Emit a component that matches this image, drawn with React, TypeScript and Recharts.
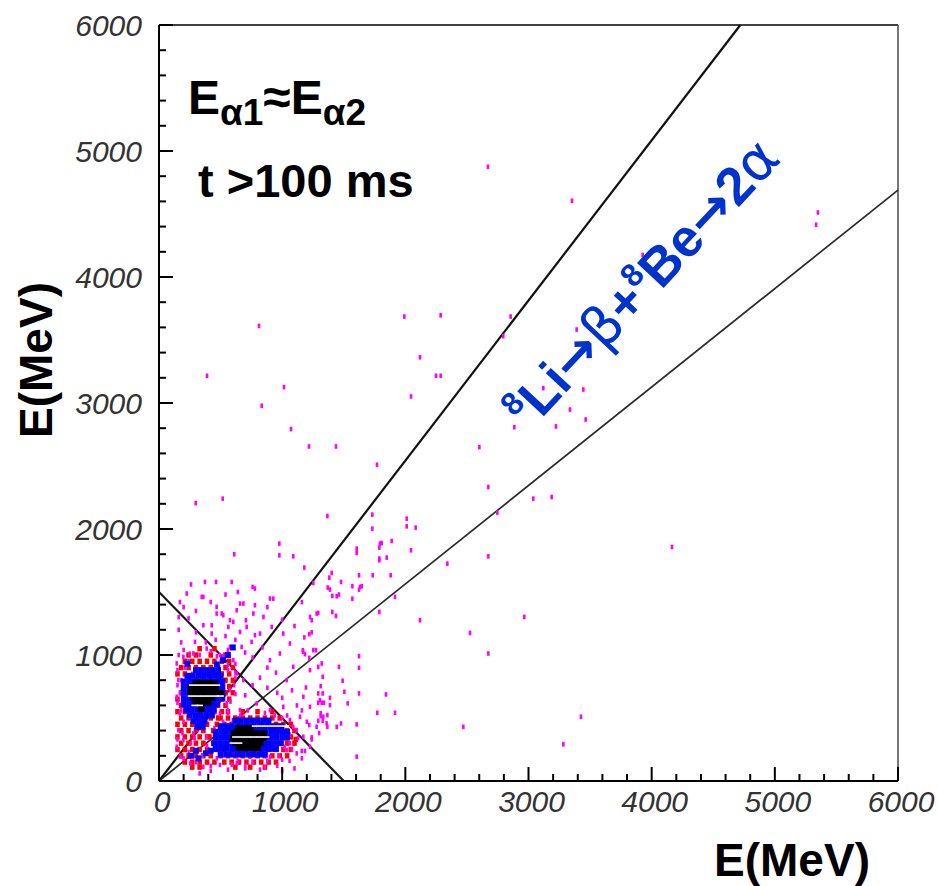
import { ScatterChart, Scatter, XAxis, YAxis, ReferenceLine } from 'recharts';

type Pt = [number, number];

const ticks = [
  0, 200, 400, 600, 800, 1000, 1200, 1400, 1600, 1800, 2000, 2200, 2400, 2600, 2800, 3000,
  3200, 3400, 3600, 3800, 4000, 4200, 4400, 4600, 4800, 5000, 5200, 5400, 5600, 5800, 6000,
];

// cuts drawn on the plot (MeV)
const cutUpper: Pt[] = [[0, 0], [4720, 6000]];
const cutLower: Pt[] = [[0, 0], [6000, 4690]];
const cutSum: Pt[] = [[0, 1500], [1500, 0]];

// sparse single counts (magenta)
const magenta: Pt[] = [
  [2671, 4875], [3353, 4605], [5350, 4512], [5335, 4415], [3927, 4175], [4311, 4341], [2287, 3696],
  [2855, 3686], [2795, 3530], [3391, 3583], [2119, 3363], [2249, 3216], [2287, 3216], [3445, 3107],
  [3120, 3118], [3337, 2948], [3464, 2869], [3223, 2814], [2885, 2808], [2601, 2650], [2674, 2333],
  [3039, 2241], [3188, 2254], [2747, 2130], [2674, 1783], [2341, 1725], [4165, 1857],
  [812, 3612], [1992, 3686], [390, 3216], [1015, 3126], [2046, 3052], [834, 2978], [1072, 2793],
  [1218, 2655], [1437, 2655], [1770, 2510], [298, 2206], [517, 2241], [1367, 2103], [1732, 2114],
  [1732, 2003], [2011, 2082], [2011, 2021], [2084, 2011], [611, 1799], [977, 1884], [977, 1791],
  [1090, 1783], [1180, 1694], [1605, 1844], [1605, 1810], [1794, 1884], [1808, 1889], [1889, 1905],
  [1789, 1852], [1789, 1765], [1849, 1773], [2046, 1831],
  [1402, 1651], [1383, 1614], [1253, 1572], [1624, 1633], [1735, 1633], [1881, 1633], [1478, 1580],
  [1570, 1546], [1632, 1540], [1646, 1546], [1624, 1519], [1370, 1535], [1388, 1519], [1407, 1469],
  [1443, 1466], [1461, 1480], [1570, 1447], [1916, 1461], [1789, 1752], [1407, 1342], [1437, 1310],
  [1293, 1334], [1789, 1342], [1240, 1276], [2119, 1276], [2966, 1302], [2525, 1175], [2674, 1012],
  [1220, 1165], [1167, 1038], [1185, 1007], [1220, 977], [1253, 1038], [1275, 1038], [1293, 906],
  [1461, 906], [1624, 991], [1624, 898], [1329, 827], [1491, 795], [1193, 742], [1313, 753],
  [1293, 695], [1329, 695], [1505, 708], [1624, 695], [1388, 660], [1843, 687], [1293, 621],
  [1321, 621], [1340, 621], [1388, 602], [1532, 616], [1313, 537], [1313, 515], [1367, 523],
  [1772, 541], [1916, 541], [1293, 478], [1329, 478], [1220, 444], [1367, 430], [1443, 430],
  [1478, 457], [1605, 449], [2471, 430], [3426, 510], [3283, 291], [1240, 346], [1159, 238],
  [1185, 238], [1605, 193],
  // halo around the two groups
  [225, 1488], [373, 1580], [463, 1580], [590, 1580], [347, 1461], [658, 1408], [685, 1408],
  [760, 1540], [779, 1527], [928, 1447], [468, 1329], [509, 1329], [631, 1355], [428, 1236],
  [563, 1223], [658, 1183], [779, 1157], [706, 1276], [766, 1329], [576, 1276], [360, 1461],
  [468, 1382], [522, 1316], [779, 1395], [901, 1448], [603, 1263], [712, 1223], [848, 1302],
  [915, 1223], [292, 1104], [360, 1236], [428, 1170], [820, 1170], [752, 1104], [671, 1064],
  [576, 1064], [1009, 1170], [1063, 1091], [982, 1012], [901, 959], [1226, 1302], [1280, 1329],
  [1171, 1025], [1090, 906], [1037, 801], [1226, 880], [1321, 933], [1172, 668], [1226, 589],
  [1307, 642], [1334, 510], [1280, 430], [1361, 457], [1172, 351], [1226, 272], [1118, 219],
  [1037, 246], [901, 193], [739, 193], [631, 140], [495, 127], [360, 113], [252, 140], [171, 193],
  [144, 668], [157, 801], [144, 933], [171, 537], [157, 404], [144, 272], [198, 325], [252, 510],
  [333, 457], [279, 378], [387, 351], [468, 272], [198, 985], [279, 1012], [387, 1051], [495, 999],
  [603, 959], [631, 854], [685, 801], [576, 721], [549, 616], [495, 537], [658, 563], [793, 616],
  [901, 563], [1009, 589], [1063, 484], [1145, 510], [1118, 404], [1063, 299],
  [540, 1150], [620, 1120], [700, 1020], [760, 980], [840, 1060], [880, 900], [950, 860], [820, 820],
  [760, 760], [880, 740], [960, 700], [1000, 660], [1080, 720], [1120, 600], [700, 680], [620, 860],
  [560, 920], [460, 1120], [380, 1100], [300, 1180], [240, 1290], [200, 1380], [300, 1350],
  [420, 1420], [540, 1480], [640, 1500], [260, 1560], [180, 1100], [160, 1000], [160, 1200],
  [1000, 1280], [1100, 1230], [880, 1380], [1160, 1420], [1240, 1180], [1180, 1140], [330, 60],
  [420, 80], [560, 90], [700, 100], [820, 90], [960, 120], [1060, 160], [1160, 180], [1240, 330],
  [1300, 380], [1200, 470], [1160, 560], [1000, 80], [1100, 100], [160, 1300], [170, 1420],
  // specks mixed into the red fringe
  [200, 1040], [330, 1000], [560, 1040], [240, 950], [470, 990], [620, 930], [150, 880], [620, 820],
  [150, 760], [610, 760], [170, 700], [620, 690], [150, 620], [580, 630], [180, 560], [560, 560],
  [200, 470], [330, 420], [150, 330], [260, 300], [390, 280], [200, 180], [300, 150], [420, 120],
  [560, 540], [720, 560], [860, 540], [1000, 500], [1090, 430], [1130, 340], [1080, 250], [1000, 170],
  [860, 110], [700, 120], [590, 130], [470, 180], [1040, 520], [940, 520], [660, 520], [450, 420],
  [210, 900], [270, 850], [180, 800], [230, 650], [560, 880], [520, 990], [420, 1030], [250, 1010],
  [190, 380], [240, 230], [350, 200], [290, 340], [520, 470], [600, 480], [1020, 270], [970, 200],
  [1060, 370], [880, 160], [760, 150], [640, 160],
];

// mid counts (red), rows staggered like the binned picture
const red: Pt[] = [
  [330, 1050], [450, 1050],
  [240, 1000], [300, 1000], [420, 1000], [540, 1000],
  [210, 950], [270, 950], [330, 950], [390, 950], [450, 950], [510, 950], [570, 950],
  [180, 900], [240, 900], [300, 900], [360, 900], [420, 900], [480, 900], [540, 900], [600, 900],
  [150, 850], [210, 850], [330, 850], [390, 850], [450, 850], [510, 850], [570, 850],
  [240, 800], [300, 800], [360, 800], [420, 800], [480, 800], [540, 800], [600, 800],
  [210, 750], [270, 750], [330, 750], [390, 750], [450, 750], [510, 750], [570, 750],
  [180, 700], [240, 700], [300, 700], [360, 700], [420, 700], [480, 700], [540, 700], [600, 700],
  [150, 650], [210, 650], [270, 650], [330, 650], [390, 650], [450, 650], [510, 650], [570, 650],
  [180, 600], [240, 600], [300, 600], [360, 600], [420, 600], [480, 600], [540, 600],
  [150, 550], [210, 550], [270, 550], [330, 550], [390, 550], [450, 550], [510, 550],
  [180, 500], [240, 500], [300, 500], [360, 500], [420, 500], [480, 500],
  [150, 450], [210, 450], [270, 450], [330, 450], [390, 450],
  [180, 400], [240, 400], [300, 400], [360, 400],
  [150, 350], [210, 350], [270, 350], [330, 350], [390, 350],
  [180, 300], [240, 300], [300, 300], [360, 300],
  [150, 250], [210, 250], [270, 250], [330, 250], [390, 250],
  [180, 200], [240, 200], [300, 200], [360, 200], [420, 200],
  [210, 150], [270, 150], [330, 150], [390, 150], [450, 150],
  [270, 110], [330, 110],
  [560, 550], [680, 550], [800, 550], [920, 550],
  [500, 500], [560, 500], [620, 500], [680, 500], [740, 500], [800, 500], [860, 500], [920, 500],
  [980, 500],
  [470, 450], [530, 450], [590, 450], [650, 450], [710, 450], [770, 450], [830, 450], [890, 450],
  [950, 450], [1010, 450], [1070, 450],
  [440, 400], [500, 400], [560, 400], [620, 400], [680, 400], [740, 400], [800, 400], [860, 400],
  [920, 400], [980, 400], [1040, 400], [1100, 400],
  [410, 350], [470, 350], [530, 350], [590, 350], [650, 350], [710, 350], [770, 350], [830, 350],
  [890, 350], [950, 350], [1010, 350], [1070, 350], [1110, 330],
  [440, 300], [500, 300], [560, 300], [620, 300], [680, 300], [740, 300], [800, 300], [860, 300],
  [920, 300], [980, 300], [1040, 300], [1100, 300],
  [470, 250], [530, 250], [590, 250], [650, 250], [710, 250], [770, 250], [830, 250], [890, 250],
  [950, 250], [1010, 250], [1070, 250],
  [500, 200], [560, 200], [620, 200], [680, 200], [740, 200], [800, 200], [860, 200], [920, 200],
  [980, 200], [1040, 200],
  [530, 150], [590, 150], [650, 150], [710, 150], [770, 150], [830, 150], [890, 150], [950, 150],
  [620, 110], [740, 110], [860, 110],
];

const blue: Pt[] = [
  [300, 880], [345, 880], [390, 880], [435, 880], [480, 880],
  [230, 835], [275, 835], [320, 835], [365, 835], [410, 835], [455, 835], [500, 835],
  [200, 790], [245, 790], [290, 790], [335, 790], [380, 790], [425, 790], [470, 790], [515, 790],
  [200, 745], [245, 745], [290, 745], [335, 745], [380, 745], [425, 745], [470, 745], [515, 745],
  [200, 700], [245, 700], [290, 700], [335, 700], [380, 700], [425, 700], [470, 700], [515, 700],
  [200, 655], [245, 655], [290, 655], [335, 655], [380, 655], [425, 655], [470, 655], [515, 655],
  [200, 610], [245, 610], [290, 610], [335, 610], [380, 610], [425, 610], [470, 610],
  [220, 565], [265, 565], [310, 565], [355, 565], [400, 565], [445, 565],
  [250, 520], [295, 520], [340, 520], [385, 520], [430, 520],
  [280, 475], [325, 475], [370, 475], [310, 430], [355, 430],
  [470, 925], [520, 960], [560, 1000], [600, 1060], [230, 930],
  [620, 480], [665, 480], [710, 480], [755, 480], [800, 480], [845, 480], [890, 480],
  [500, 435], [545, 435], [590, 435], [635, 435], [680, 435], [725, 435], [770, 435], [815, 435],
  [860, 435], [905, 435], [950, 435], [995, 435],
  [460, 390], [505, 390], [550, 390], [595, 390], [640, 390], [685, 390], [730, 390], [775, 390],
  [820, 390], [865, 390], [910, 390], [955, 390], [1000, 390], [1040, 390],
  [460, 345], [505, 345], [550, 345], [595, 345], [640, 345], [685, 345], [730, 345], [775, 345],
  [820, 345], [865, 345], [910, 345], [955, 345], [1000, 345], [1040, 345],
  [450, 300], [495, 300], [540, 300], [585, 300], [630, 300], [675, 300], [720, 300], [765, 300],
  [810, 300], [855, 300], [900, 300], [945, 300], [990, 300],
  [460, 255], [505, 255], [550, 255], [595, 255], [640, 255], [685, 255], [730, 255], [775, 255],
  [820, 255], [865, 255], [910, 255], [950, 255],
  [500, 210], [545, 210], [590, 210], [635, 210], [680, 210], [725, 210], [770, 210], [815, 210],
  [860, 210],
  [260, 200], [320, 180], [380, 220], [420, 240], [300, 240],
];

const black: Pt[] = [
  [300, 780], [350, 780], [400, 780], [450, 780], [260, 740], [310, 740], [360, 740], [410, 740],
  [460, 740], [260, 700], [310, 700], [360, 700], [410, 700], [460, 700], [500, 700], [280, 660],
  [330, 660], [380, 660], [430, 660], [300, 620], [350, 620], [400, 620], [340, 570],
  [640, 420], [690, 420], [740, 420], [610, 380], [660, 380], [710, 380], [760, 380], [810, 380],
  [850, 380], [600, 340], [650, 340], [700, 340], [750, 340], [800, 340], [850, 340], [620, 300],
  [670, 300], [720, 300], [770, 300], [820, 300], [650, 260], [700, 260], [750, 260], [800, 260],
];

// saturated bins show up as thin white streaks inside the cores
const white: Pt[] = [
  [270, 761], [320, 761], [370, 761], [420, 761], [470, 761], [260, 674], [310, 674], [360, 674],
  [410, 674], [460, 674], [500, 674], [290, 600], [330, 600],
  [620, 349], [670, 349], [720, 349], [770, 349], [820, 349], [870, 349], [780, 436], [830, 436],
  [880, 436], [930, 436], [980, 436], [1030, 436], [600, 301], [650, 301],
];

const FONT = '"Liberation Sans", Arial, Helvetica, sans-serif';
const SYM = '"DejaVu Sans", sans-serif';

const toXY = (arr: Pt[]) => arr.map(([x, y]) => ({ x, y }));

const cell = (fill: string, w: number, h: number) => (p: any) => (
  <rect x={p.cx - w / 2} y={p.cy - h / 2} width={w} height={h} fill={fill} />
);

function XTick({ x, y, payload }: any) {
  const major = payload.value % 1000 === 0;
  return (
    <g>
      <line x1={x} x2={x} y1={y} y2={y - (major ? 14 : 7)} stroke="#000" strokeWidth={2} />
      {major && (
        <text x={x + 3} y={y + 31} textAnchor="middle" fontSize={30} fontStyle="italic" fill="#333" fontFamily={FONT}>
          {payload.value}
        </text>
      )}
    </g>
  );
}

function YTick({ x, y, payload }: any) {
  const major = payload.value % 1000 === 0;
  return (
    <g>
      <line x1={x} x2={x + (major ? 14 : 7)} y1={y} y2={y} stroke="#000" strokeWidth={2} />
      {major && (
        <text x={x - 17} y={y + 11} textAnchor="end" fontSize={30} fontStyle="italic" fill="#333" fontFamily={FONT}>
          {payload.value}
        </text>
      )}
    </g>
  );
}

export default function App() {
  return (
    <div style={{ position: 'relative', width: 938, height: 886, background: '#fff' }}>
      <style>{'body{margin:0}'}</style>
      <ScatterChart width={938} height={886} margin={{ top: 25, right: 40, bottom: 55, left: 99 }}>
        <XAxis
          type="number"
          dataKey="x"
          domain={[0, 6000]}
          ticks={ticks}
          interval={0}
          allowDataOverflow
          height={50}
          tickSize={0}
          tickMargin={0}
          tickLine={false}
          axisLine={{ stroke: '#000', strokeWidth: 2 }}
          tick={<XTick />}
        />
        <YAxis
          type="number"
          dataKey="y"
          domain={[0, 6000]}
          ticks={ticks}
          interval={0}
          allowDataOverflow
          width={60}
          tickSize={0}
          tickMargin={0}
          tickLine={false}
          axisLine={{ stroke: '#000', strokeWidth: 2 }}
          tick={<YTick />}
        />
        <Scatter data={toXY(red)} fill="#ff0000" shape={cell('#ff0000', 4.6, 5.4)} isAnimationActive={false} />
        <Scatter data={toXY(magenta)} fill="#ff00ff" shape={cell('#ff00ff', 2.6, 4.6)} isAnimationActive={false} />
        <Scatter data={toXY(blue)} fill="#0000ff" shape={cell('#0000ff', 5.8, 6)} isAnimationActive={false} />
        <Scatter data={toXY(black)} fill="#000" shape={cell('#000000', 6.6, 5.6)} isAnimationActive={false} />
        <Scatter data={toXY(white)} fill="#fff" shape={cell('#ffffff', 6.6, 1.6)} isAnimationActive={false} />
        <ReferenceLine y={6000} stroke="#000" strokeWidth={1.6} ifOverflow="visible" />
        <ReferenceLine x={6000} stroke="#555" strokeWidth={1.6} ifOverflow="visible" />
        <ReferenceLine segment={toXY(cutUpper)} stroke="#111" strokeWidth={2.2} ifOverflow="visible" />
        <ReferenceLine segment={toXY(cutLower)} stroke="#2a2a2a" strokeWidth={1.7} ifOverflow="visible" />
        <ReferenceLine segment={toXY(cutSum)} stroke="#1a1a1a" strokeWidth={2.2} ifOverflow="visible" />
      </ScatterChart>
      <svg
        width={938}
        height={886}
        style={{ position: 'absolute', left: 0, top: 0, pointerEvents: 'none' }}
        fontFamily={FONT}
      >
        <text x={188} y={114} fontSize={48} fontWeight="bold" fill="#000">
          E<tspan fontSize={37} dy={11}>α1</tspan>
          <tspan dy={-11} fontSize={50}>≈</tspan>E<tspan fontSize={37} dy={11}>α2</tspan>
        </text>
        <text x={198} y={197} fontSize={47} fontWeight="bold" fill="#000">
          t &gt;100 ms
        </text>
        <text x={792} y={876} textAnchor="middle" fontSize={46} fontWeight="bold" fill="#000">
          E(MeV)
        </text>
        <text x={-360} y={52} transform="rotate(-90)" textAnchor="middle" fontSize={46} fontWeight="bold" fill="#000">
          E(MeV)
        </text>
        <text
          x={656}
          y={296}
          transform="rotate(-47 656 296)"
          textAnchor="middle"
          fontSize={53}
          fontWeight="bold"
          fill="#0033cc"
        >
          <tspan fontSize={32} dy={-21}>8</tspan>
          <tspan dy={21}>Li</tspan>
          <tspan fontFamily={SYM}>→</tspan>
          <tspan fontFamily={SYM} fontWeight="normal" fontSize={55}>β</tspan>
          <tspan>+</tspan>
          <tspan fontSize={32} dy={-21}>8</tspan>
          <tspan dy={21}>Be</tspan>
          <tspan fontFamily={SYM}>→</tspan>
          <tspan>2</tspan>
          <tspan fontFamily={SYM} fontWeight="normal" fontSize={55}>α</tspan>
        </text>
      </svg>
    </div>
  );
}
